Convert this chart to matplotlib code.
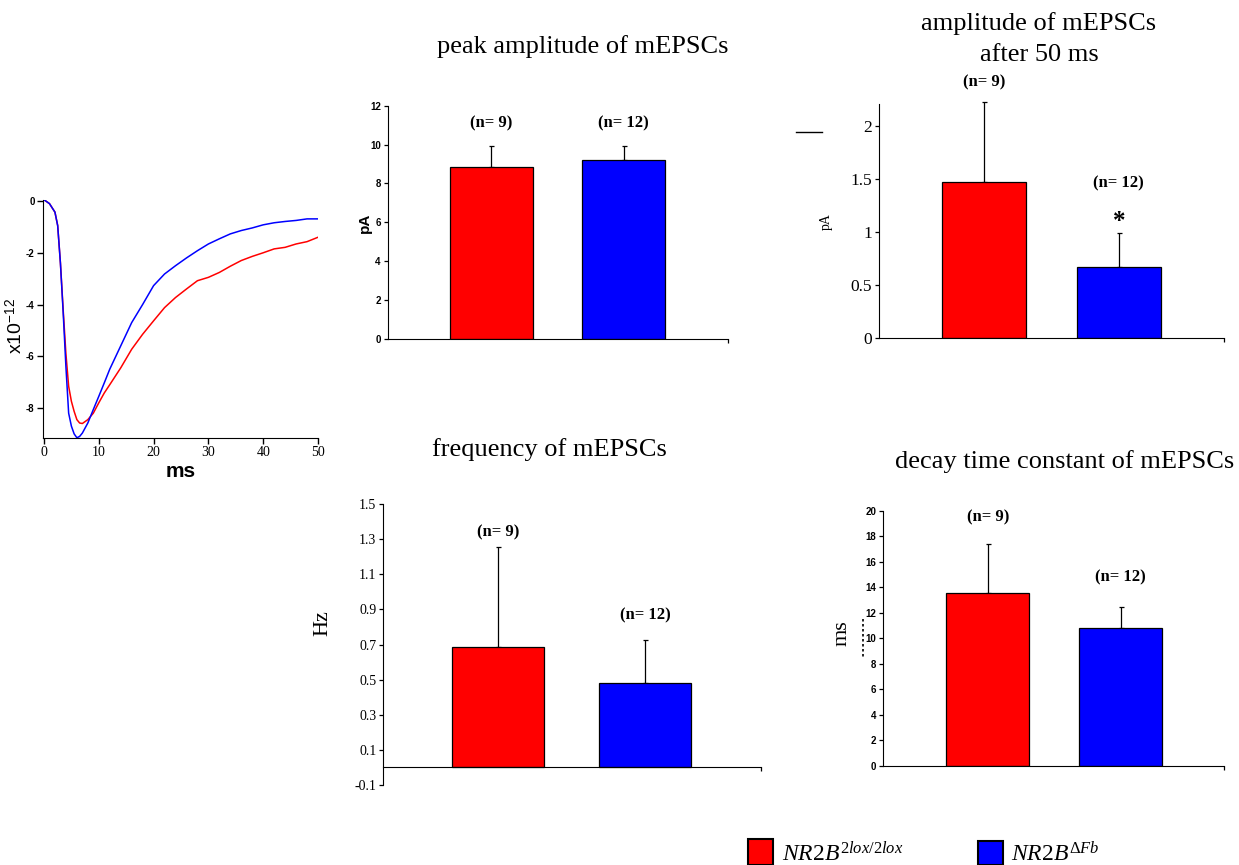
import matplotlib
matplotlib.use("Agg")
import matplotlib.pyplot as plt
from matplotlib.patches import Rectangle
from matplotlib.lines import Line2D
import numpy as np

# ---------------- data ----------------
trace_t = [0, 1, 2, 2.5, 3, 3.5, 4, 4.5, 5, 5.5, 6, 6.5, 7, 8, 9, 10, 11, 12, 14, 16, 18,
           20, 22, 24, 26, 28, 30, 32, 34, 36, 38, 40, 42, 44, 46, 48, 50]
trace_blue = [0.05, -0.1, -0.43, -0.95, -2.4, -4.3, -6.4, -8.2, -8.7, -9.0, -9.15, -9.1, -8.97,
              -8.58, -8.06, -7.55, -7.03, -6.5, -5.6, -4.7, -4.0, -3.27, -2.82, -2.5, -2.2,
              -1.92, -1.66, -1.46, -1.27, -1.14, -1.04, -0.92, -0.84, -0.79, -0.75, -0.69, -0.69]
trace_red = [0.05, -0.1, -0.43, -0.95, -2.4, -4.2, -5.9, -7.16, -7.74, -8.13, -8.45, -8.58, -8.6,
             -8.45, -8.2, -7.8, -7.42, -7.1, -6.45, -5.73, -5.15, -4.63, -4.12, -3.73, -3.4,
             -3.08, -2.95, -2.76, -2.52, -2.3, -2.14, -2.0, -1.85, -1.79, -1.66, -1.57, -1.4]

groups = ["NR2B 2lox/2lox", "NR2B ΔFb"]
n_labels = ["(n= 9)", "(n= 12)"]
colors = ["#ff0000", "#0000ff"]

peak_amp = [8.86, 9.22]
peak_err = [1.08, 0.72]

amp50 = [1.473, 0.668]
amp50_err = [0.747, 0.326]

freq = [0.684, 0.479]
freq_err = [0.569, 0.248]

decay = [13.52, 10.78]
decay_err = [3.84, 1.65]

# ---------------- layout helpers ----------------
W, H = 1239, 865
fig = plt.figure(figsize=(W / 100, H / 100), dpi=100)
fig.patch.set_facecolor("white")

SERIF = "Liberation Serif"
SANS = "Liberation Sans"
plt.rcParams["mathtext.fontset"] = "custom"
plt.rcParams["mathtext.rm"] = "Liberation Serif"
plt.rcParams["mathtext.it"] = "Liberation Serif:italic"
plt.rcParams["mathtext.sf"] = "Liberation Sans"
plt.rcParams["mathtext.fallback"] = "stix"


def ax_px(left, top, right, bottom):
    return fig.add_axes([left / W, 1 - bottom / H, (right - left) / W, (bottom - top) / H])


def ftext(x, y, s, **kw):
    return fig.text(x / W, 1 - y / H, s, **kw)


# ---------------- trace panel ----------------
axt = ax_px(43, 200, 318, 438)
axt.plot(trace_t, trace_red, color="#ff0000", lw=1.1)
axt.plot(trace_t, trace_blue, color="#0000ff", lw=1.1)
axt.set_xlim(-0.18, 50)
axt.set_ylim(-9.16, 0.04)
axt.spines["top"].set_visible(False)
axt.spines["right"].set_visible(False)
axt.set_yticks([0, -2, -4, -6, -8])
axt.set_yticklabels(["0", "-2", "-4", "-6", "-8"], fontfamily=SANS, fontweight="bold", fontsize=7)
axt.set_xticks([0, 10, 20, 30, 40, 50])
axt.set_xticklabels(["0", "10", "20", "30", "40", "50"], fontfamily=SERIF, fontsize=10)
axt.tick_params(direction="out", length=4, width=1, pad=2)
axt.set_xlabel("ms", fontfamily=SANS, fontweight="bold", fontsize=15, labelpad=2)
axt.set_ylabel(r"x10$^{\mathsf{-12}}$", fontfamily=SANS, fontsize=14, labelpad=0)
axt.yaxis.set_label_coords(-0.06, 0.47)


def bar_panel(rect, vals, errs, ylim, yticks, yticklabels, xl, tick_font, ylabel, ylabel_font,
              ylabel_xy, n_y, n_fs=12, zero_axis=False):
    ax = ax_px(*rect)
    x = np.arange(len(vals))
    ax.bar(x, vals, width=0.624, color=colors, edgecolor="black", linewidth=0.9, zorder=2)
    eb = ax.errorbar(x, vals, yerr=[[0, 0], errs], fmt="none", ecolor="black", elinewidth=0.9,
                     capsize=1.8, capthick=0.9, zorder=1)
    for art in eb.lines[1] + eb.lines[2]:
        art.set_clip_on(False)
    ax.set_xlim(*xl)
    ax.set_ylim(*ylim)
    for s in ["top", "right"]:
        ax.spines[s].set_visible(False)
    if zero_axis:
        ax.spines["bottom"].set_position(("data", 0))
    ax.set_yticks(yticks)
    ax.set_yticklabels(yticklabels, **tick_font)
    ax.set_xticks([xl[1]])
    ax.set_xticklabels([""])
    ax.tick_params(axis="both", direction="out", length=3, width=0.9, pad=2)
    ax.set_ylabel(ylabel, **ylabel_font)
    ax.yaxis.set_label_coords(*ylabel_xy)
    for xi, lab, ny in zip(x, n_labels, n_y):
        ax.text(xi, ny, lab, ha="center", va="center", fontfamily=SERIF, fontweight="bold",
                fontsize=n_fs)
    return ax


sans_small = dict(fontfamily=SANS, fontweight="bold", fontsize=7)

# peak amplitude
ax1 = bar_panel((387.7, 105.7, 728, 339), peak_amp, peak_err, (0, 12),
                [0, 2, 4, 6, 8, 10, 12], ["0", "2", "4", "6", "8", "10", "12"],
                (-0.782, 1.786), sans_small, "pA",
                dict(fontfamily=SANS, fontweight="bold", fontsize=11), (-0.046, 0.5),
                [11.1, 11.1])

# amplitude after 50 ms
ax2 = bar_panel((879, 104.3, 1224, 338.3), amp50, amp50_err, (0, 2.2),
                [0, 0.5, 1, 1.5, 2], ["0", "0.5", "1", "1.5", "2"],
                (-0.779, 1.78), dict(fontfamily=SERIF, fontsize=12.5), "pA",
                dict(fontfamily=SERIF, fontsize=10), (-0.133, 0.497),
                [2.41, 1.46])
ax2.text(1, 1.10, "*", ha="center", va="center", fontfamily=SERIF, fontweight="bold", fontsize=18)

# frequency
ax3 = bar_panel((383.3, 504, 761, 785), freq, freq_err, (-0.1, 1.5),
                [-0.1, 0.1, 0.3, 0.5, 0.7, 0.9, 1.1, 1.3, 1.5],
                ["-0.1", "0.1", "0.3", "0.5", "0.7", "0.9", "1.1", "1.3", "1.5"],
                (-0.782, 1.788), dict(fontfamily=SERIF, fontsize=10), "Hz",
                dict(fontfamily=SERIF, fontsize=16), (-0.136, 0.577),
                [1.34, 0.868], zero_axis=True)

# decay
ax4 = bar_panel((883.3, 510.7, 1224.3, 766), decay, decay_err, (0, 20),
                list(range(0, 21, 2)), [str(v) for v in range(0, 21, 2)],
                (-0.785, 1.779), sans_small, "ms",
                dict(fontfamily=SERIF, fontsize=16), (-0.092, 0.521),
                [19.5, 14.8])

# decorations
fig.add_artist(Line2D([795.7 / W, 821.7 / W], [1 - 132.3 / H, 1 - 132.3 / H], color="black", lw=1))
fig.add_artist(Line2D([862.7 / W, 862.7 / W], [1 - 619 / H, 1 - 657 / H], color="black", lw=1.2,
                      linestyle=(0, (1.5, 1.5))))

# titles
title_kw = dict(fontfamily=SERIF, fontsize=19, ha="center", va="center")
ftext(583, 47, "peak amplitude of mEPSCs", **title_kw)
ftext(1039, 24, "amplitude of mEPSCs", **title_kw)
ftext(1039, 55, "after 50 ms", **title_kw)
ftext(549, 450, "frequency of mEPSCs", **title_kw)
ftext(1065, 462, "decay time constant of mEPSCs", **title_kw)

# legend
fig.add_artist(Rectangle((748 / W, 0), 25 / W, 26 / H, transform=fig.transFigure,
                         facecolor="#ff0000", edgecolor="black", lw=1.5))
fig.add_artist(Rectangle((977.5 / W, 0), 25 / W, 24 / H, transform=fig.transFigure,
                         facecolor="#0000ff", edgecolor="black", lw=1.5))
ftext(782, 861, r"$\mathit{NR2B}^{\mathit{2lox/2lox}}$", fontsize=17, va="baseline", ha="left")
ftext(1011, 861, r"$\mathit{NR2B}^{\mathit{\Delta Fb}}$", fontsize=17, va="baseline", ha="left")

fig.savefig("out.png", dpi=100, facecolor="white")
